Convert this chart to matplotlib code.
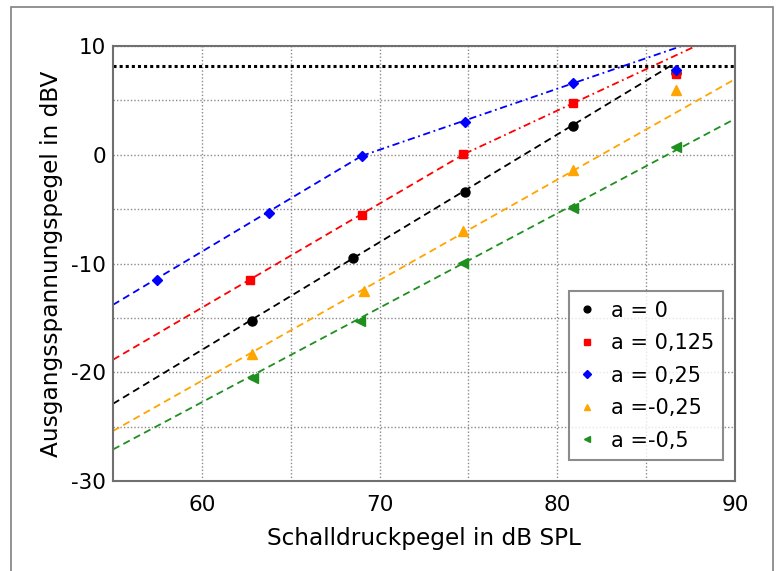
import matplotlib
matplotlib.use("Agg")
import matplotlib.pyplot as plt
from matplotlib.patches import Rectangle

plt.rcParams["axes.unicode_minus"] = False

# measured points (x: dB SPL, y: dBV)
black_x = [62.8, 68.5, 74.8, 80.9, 86.7]
black_y = [-15.25, -9.45, -3.45, 2.65, 7.5]
red_x = [62.7, 69.0, 74.7, 80.9, 86.7]
red_y = [-11.5, -5.5, 0.05, 4.8, 7.4]
blue_x = [57.5, 63.8, 69.0, 74.8, 80.9, 86.7]
blue_y = [-11.5, -5.4, -0.15, 3.05, 6.6, 7.8]
orange_x = [62.8, 69.1, 74.7, 80.9, 86.7]
orange_y = [-18.3, -12.5, -7.0, -1.4, 6.0]
green_x = [62.9, 68.9, 74.7, 80.9, 86.7]
green_y = [-20.5, -15.3, -9.95, -4.9, 0.7]

# model curves
black_fit_x = [55, 86.4]
black_fit_y = [-22.9, 8.2]
red_fit_x = [55, 74.8, 87.8]
red_fit_y = [-18.85, 0.1, 10]
blue_fit_x = [55, 69, 87]
blue_fit_y = [-13.8, -0.1, 10]
orange_fit_x = [55, 90]
orange_fit_y = [-25.4, 6.95]
green_fit_x = [55, 90]
green_fit_y = [-27.1, 3.3]

clip_level = 8.2

labels = ["a = 0", "a = 0,125", "a = 0,25", "a =-0,25", "a =-0,5"]
x_ticks = [60, 70, 80, 90]
y_ticks = [-30, -20, -10, 0, 10]

c_black = "black"
c_red = "#ff0000"
c_blue = "#0000ff"
c_orange = "#ffa500"
c_green = "#1f8f1f"

fig = plt.figure(figsize=(7.76, 5.71), dpi=100)
ax = fig.add_axes([0.1456, 0.1576, 0.8015, 0.7618])

# outer frame of the picture
fig.patches.append(Rectangle((11 / 776, -0.01), (773 - 11) / 776, 1.01 - 7 / 571,
                             transform=fig.transFigure, fill=False,
                             edgecolor="#808080", linewidth=1.2))

ax.axhline(clip_level, color="black", linestyle=(0, (1, 1)), linewidth=2.2, zorder=2)

lw = 1.3
ax.plot(black_fit_x, black_fit_y, color=c_black, linewidth=lw, dashes=(4, 2.5))
ax.plot(red_fit_x[:2], red_fit_y[:2], color=c_red, linewidth=lw, dashes=(4, 2.5))
ax.plot(red_fit_x[1:], red_fit_y[1:], color=c_red, linewidth=lw, dashes=(4, 2, 1, 2))
ax.plot(blue_fit_x[:2], blue_fit_y[:2], color=c_blue, linewidth=lw, dashes=(4, 2.5))
ax.plot(blue_fit_x[1:], blue_fit_y[1:], color=c_blue, linewidth=lw, dashes=(4, 2, 1, 2))
ax.plot(orange_fit_x, orange_fit_y, color=c_orange, linewidth=lw, dashes=(4, 2.5))
ax.plot(green_fit_x, green_fit_y, color=c_green, linewidth=lw, dashes=(4, 2.5))

ms = 6.5
ax.plot(black_x, black_y, "o", color=c_black, markersize=ms, label=labels[0], zorder=5)
ax.plot(red_x, red_y, "s", color=c_red, markersize=ms - 0.5, label=labels[1], zorder=5)
ax.plot(blue_x, blue_y, "D", color=c_blue, markersize=ms - 1.5, label=labels[2], zorder=5)
ax.plot(orange_x, orange_y, "^", color=c_orange, markersize=ms, label=labels[3], zorder=5)
ax.plot(green_x, green_y, "<", color=c_green, markersize=ms, label=labels[4], zorder=5)

ax.set_xlim(55, 90)
ax.set_ylim(-30, 10)
ax.set_xticks(x_ticks)
ax.set_yticks(y_ticks)
ax.set_xticks([65, 75, 85], minor=True)
ax.set_yticks([-25, -15, -5, 5], minor=True)
ax.grid(True, which="both", color="#8a8a8a", linestyle=(0, (1, 1.5)), linewidth=1.0)
ax.tick_params(which="both", length=0, labelsize=15.5)
ax.tick_params(axis="x", pad=10)
ax.tick_params(axis="y", pad=5)
for s in ax.spines.values():
    s.set_color("#707070")
    s.set_linewidth(1.5)

ax.set_xlabel("Schalldruckpegel in dB SPL", fontsize=16.7, labelpad=9)
ax.set_ylabel("Ausgangsspannungspegel in dBV", fontsize=16.7, labelpad=6)

leg = ax.legend(loc="lower right", bbox_to_anchor=(0.981, 0.048), borderaxespad=0,
                fontsize=15, frameon=True, fancybox=False, edgecolor="#707070",
                markerscale=0.75, handlelength=0.8, handletextpad=0.75,
                borderpad=0.45, labelspacing=0.6)
leg.get_frame().set_linewidth(1.5)

fig.savefig("out.png", dpi=100)
